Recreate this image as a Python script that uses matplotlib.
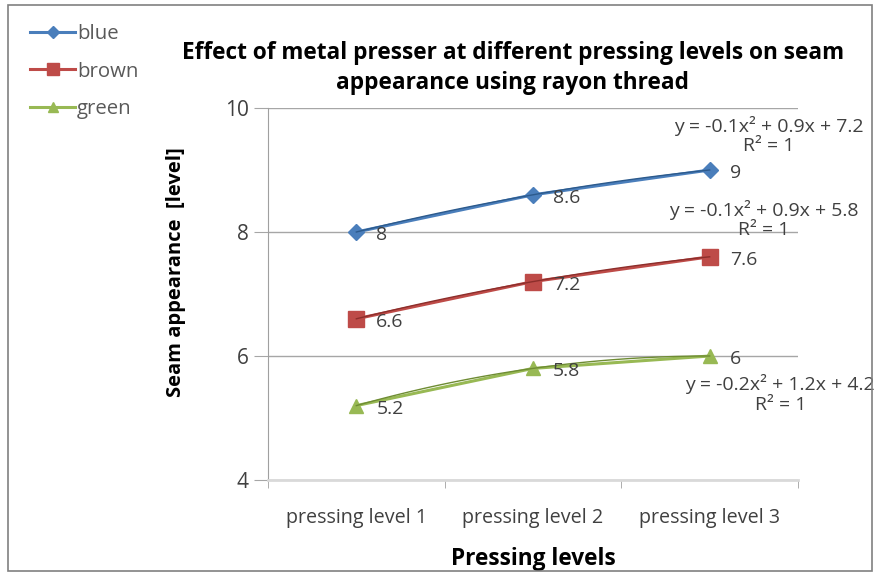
import numpy as np
import matplotlib.pyplot as plt
from matplotlib.patches import Rectangle

plt.rcParams['font.family'] = ['Open Sans', 'DejaVu Sans']

# data
categories = ['pressing level 1', 'pressing level 2', 'pressing level 3']
series_names = ['blue', 'brown', 'green']
blue = [8, 8.6, 9]
brown = [6.6, 7.2, 7.6]
green = [5.2, 5.8, 6]
equations = ['y = -0.1x² + 0.9x + 7.2\nR² = 1',
             'y = -0.1x² + 0.9x + 5.8\nR² = 1',
             'y = -0.2x² + 1.2x + 4.2\nR² = 1']
y_ticks = [4, 6, 8, 10]

colors = ['#4A7EBB', '#BE4B48', '#98B954']
dark = ['#2C5A8C', '#8C2E2B', '#6E8C33']
markers = ['D', 's', '^']
msizes = [8, 12, 10]
eq_pos = [(2.335, 9.56), (2.307, 8.2), (2.40, 5.39)]

fig = plt.figure(figsize=(8.84, 5.75), dpi=100)
ax = fig.add_axes([268 / 884, 1 - 480 / 575, 530 / 884, 372 / 575])

x = np.arange(len(categories))
xs = np.linspace(0, 2, 100)
handles = []
for k, vals in enumerate([blue, brown, green]):
    coef = np.polyfit(x + 1, vals, 2)
    h, = ax.plot(x, vals, color=colors[k], lw=2.2, marker=markers[k], ms=msizes[k],
                 zorder=3, label=series_names[k])
    ax.plot(xs, np.polyval(coef, xs + 1), color=dark[k], lw=1.0, zorder=4)
    handles.append(h)
    for i, v in enumerate(vals):
        ax.annotate(f'{v:g}', (x[i], v), xytext=(20, -3), textcoords='offset pixels',
                    ha='left', va='center', fontsize=14, color='#404040', zorder=5)
    ax.text(eq_pos[k][0], eq_pos[k][1], equations[k], ha='center', va='center',
            fontsize=14, color='#404040', linespacing=1.1, zorder=5, clip_on=False)

ax.set_xlim(-0.5, 2.5)
ax.set_ylim(4, 10)
ax.set_yticks(y_ticks)
ax.set_xticks(x)
ax.set_xticklabels(categories, fontsize=14.2, color='#404040')
ax.set_xticks([-0.5, 0.5, 1.5, 2.5], minor=True)
ax.tick_params(axis='x', which='major', length=0, pad=20)
ax.tick_params(axis='x', which='minor', length=6, color='#a0a0a0')
ax.tick_params(axis='y', length=10, color='#a6a6a6', labelsize=15, labelcolor='#404040', pad=4)
ax.grid(axis='y', color='#a6a6a6', lw=1)
ax.set_axisbelow(True)
for s in ['top', 'right']:
    ax.spines[s].set_visible(False)
ax.spines['left'].set_color('#a0a0a0')
ax.spines['bottom'].set_color('#d9d9d9')
ax.spines['bottom'].set_linewidth(2)

ax.set_ylabel('Seam appearance  [level]', fontsize=14.5, fontweight='bold')
ax.yaxis.set_label_coords(-0.155, 0.559)
ax.set_xlabel('Pressing levels', fontsize=16.3, fontweight='bold', labelpad=14)

fig.text(513 / 884, 1 - 68 / 575,
         'Effect of metal presser at different pressing levels on seam\nappearance using rayon thread',
         ha='center', va='center', fontsize=16.3, fontweight='bold', linespacing=1.35)

leg = fig.legend(handles=handles, loc='upper left', bbox_to_anchor=(22 / 884, 1 - 16 / 575),
                 frameon=False, fontsize=14.7, handlelength=2.2, handletextpad=0.1,
                 labelspacing=0.85, borderaxespad=0, markerscale=0.75)
for t in leg.get_texts():
    t.set_color('#595959')

fig.add_artist(Rectangle((8 / 884, 4 / 575), 864 / 884, 566 / 575, transform=fig.transFigure,
                         fill=False, edgecolor='#808080', lw=1.2))

fig.savefig('out.png', dpi=100)
